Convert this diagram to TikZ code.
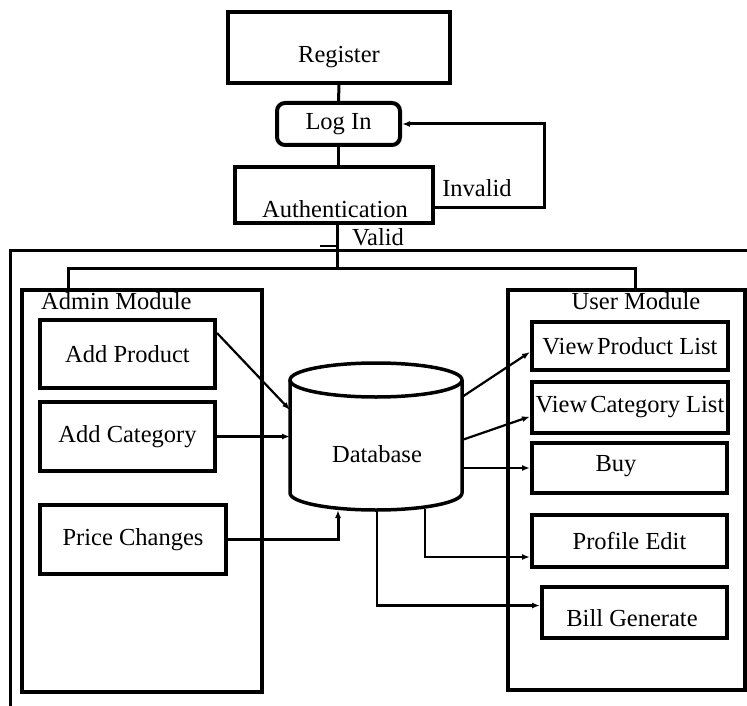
\documentclass[tikz,border=0pt]{standalone}
\usepackage{fontspec}
\setmainfont{Liberation Serif}
\usetikzlibrary{arrows.meta,calc}
\begin{document}
\begin{tikzpicture}[x=1pt,y=-1pt,
  box/.style={draw, line width=4pt, inner sep=0pt, font=\fontsize{24.5}{28}\selectfont},
  lbl/.style={font=\fontsize{24.5}{28}\selectfont, inner sep=0pt},
  conn/.style={line width=3pt},
  arr/.style={line width=2.2pt, -{Latex[length=8pt,width=6pt]}},
  thickarr/.style={line width=3pt, -{Latex[length=8pt,width=6pt]}},
]
\useasboundingbox (0,0) rectangle (747,706);
\clip (0,0) rectangle (747,706);

% top chain
\node[box, minimum width=222pt, minimum height=71pt] (reg) at (339,47.5) {};
\node[lbl] (regt) at (339,57) {Register};
\node[box, rounded corners=8pt, minimum width=123pt, minimum height=42pt] (login) at (338.5,124) {Log In};
\node[box, minimum width=198pt, minimum height=56pt] (auth) at (334,195) {};
\node[lbl] (autht) at (335,209) {Authentication};
\node[lbl] (inv) at (477,188) {Invalid};
\node[lbl] (val) at (378,237) {Valid};

\draw[conn] (reg.south) -- (login.north);
\draw[conn] (login.south) -- (login.south |- auth.north);
\draw[thickarr] ($(auth.east)+(0,12)$) -- ++(109,0) |- (login.east);

% outer frame
\coordinate (frameTL) at (10,250);
\draw[conn] (10,712) -- (frameTL) -- (752,250);
\draw[line width=2pt] (320,246) -- (337,246);

% modules
\node[box, minimum width=240pt, minimum height=402pt] (admin) at (142,491) {};
\node[lbl, anchor=base west] (admint) at (41,309) {Admin Module};
\node[box, minimum width=237pt, minimum height=400pt] (user) at (626.5,490) {};
\node[lbl] (usert) at (636,301) {User Module};

\coordinate (br) at (337,268);
\draw[conn] (auth.south -| br) -- (br);
\draw[conn] ($(admin.north west)+(48,0)$) |- (br) -| ($(user.north west)+(129,0)$);

% admin items
\node[box, minimum width=175pt, minimum height=68pt] (ap) at (127.5,354) {Add Product};
\node[box, minimum width=175pt, minimum height=69pt] (ac) at (127.5,436.5) {Add Category};
\node[box, minimum width=186pt, minimum height=69pt] (pc) at (133,539.5) {Price Changes};

% user items
\node[box, minimum width=196pt, minimum height=48pt] (vpl) at (630,346) {View\hspace{3pt}Product List};
\node[box, minimum width=196pt, minimum height=51pt] (vcl) at (630,407.5) {View\hspace{3pt}Category List};
\node[box, minimum width=195pt, minimum height=50pt] (buy) at (629.5,468) {};
\node[lbl] (buyt) at (616,466) {Buy};
\node[box, minimum width=195pt, minimum height=52pt] (pe) at (629.5,541) {Profile Edit};
\node[box, minimum width=185pt, minimum height=51pt] (bg) at (634.5,612.5) {};
\node[lbl] (bgt) at (632,618) {Bill Generate};

% database cylinder
\draw[line width=3.5pt, fill=white] (290,380) -- (290,493) arc[start angle=180, end angle=0, x radius=86, y radius=17] -- (462,380);
\draw[line width=3.5pt] (376,380) ellipse [x radius=86, y radius=17];
\node[lbl] (db) at (377,454) {Database};
\coordinate (dbL1) at (290,410);
\coordinate (dbB) at (338,510);
\coordinate (dbR1) at (462,397);
\coordinate (dbR2) at (462,440);
\coordinate (dbR3) at (462,468);
\coordinate (dbB2) at (425,509);
\coordinate (dbB3) at (377,510);

% arrows
\draw[arr] ($(ap.north east)+(0,15)$) -- (dbL1);
\draw[arr] (ac.east) -- (ac.east -| dbL1);
\draw[thickarr] (pc.east) -| (dbB);
\draw[arr] (dbR1) -- ($(vpl.west)+(0,6)$);
\draw[arr] (dbR2) -- ($(vcl.west)+(0,9)$);
\draw[arr] (dbR3) -- (buy.west);
\draw[arr] (dbB2) |- ($(pe.west)+(0,16)$);
\draw[arr] (dbB3) |- ($(bg.west)+(0,-7)$);
\end{tikzpicture}
\end{document}
